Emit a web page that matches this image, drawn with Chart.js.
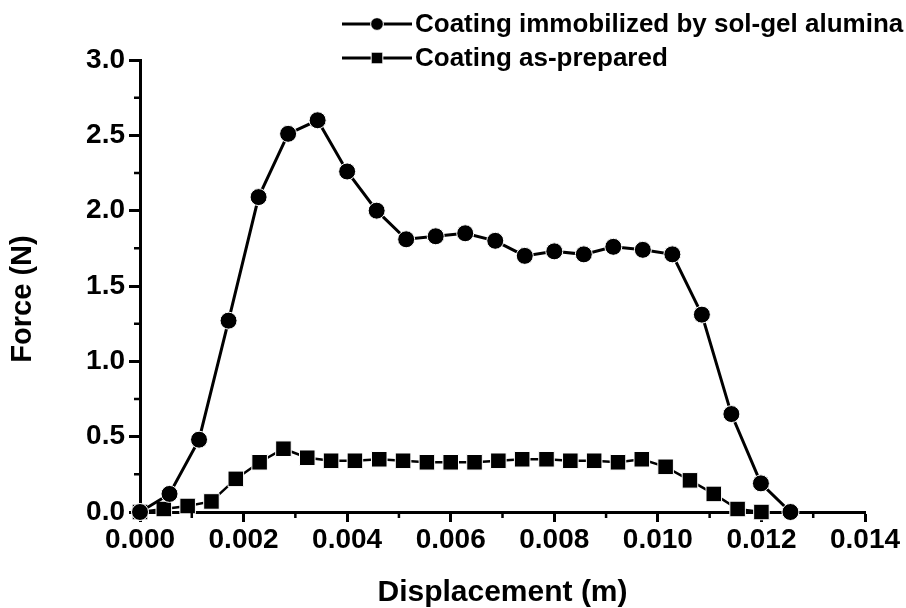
<!DOCTYPE html>
<html>
<head>
<meta charset="utf-8">
<script src="https://cdn.jsdelivr.net/npm/chart.js@4/dist/chart.umd.min.js"></script>
<style>
  html, body { margin: 0; padding: 0; background: #fff; }
  #c { display: block; }
</style>
</head>
<body>
<canvas id="c" width="906" height="608"></canvas>
<script>
// Force–displacement curves of the two coatings
const seriesNames = ['Coating immobilized by sol-gel alumina', 'Coating as-prepared'];

const aluminaX = [0, 0.00057, 0.00114, 0.00171, 0.00229, 0.00286, 0.00343, 0.00400, 0.00457, 0.00514,
                  0.00571, 0.00628, 0.00686, 0.00743, 0.00800, 0.00857, 0.00914, 0.00971, 0.01028,
                  0.01085, 0.01142, 0.01199, 0.01256];
const aluminaF = [0, 0.12, 0.48, 1.27, 2.09, 2.51, 2.60, 2.26, 2.00, 1.81,
                  1.83, 1.85, 1.80, 1.70, 1.73, 1.71, 1.76, 1.74, 1.71,
                  1.31, 0.65, 0.19, 0];

const preparedX = [0, 0.00046, 0.00092, 0.00138, 0.00185, 0.00231, 0.00277, 0.00323, 0.00369, 0.00415,
                   0.00462, 0.00508, 0.00554, 0.00600, 0.00646, 0.00692, 0.00738, 0.00785, 0.00831,
                   0.00877, 0.00923, 0.00969, 0.01015, 0.01062, 0.01108, 0.01154, 0.01200];
const preparedF = [0, 0.02, 0.04, 0.07, 0.22, 0.33, 0.42, 0.36, 0.34, 0.34,
                   0.35, 0.34, 0.33, 0.33, 0.33, 0.34, 0.35, 0.35, 0.34,
                   0.34, 0.33, 0.35, 0.30, 0.21, 0.12, 0.02, 0];

const xTicks = [0, 0.002, 0.004, 0.006, 0.008, 0.010, 0.012, 0.014];
const yTicks = [0, 0.5, 1.0, 1.5, 2.0, 2.5, 3.0];
const xTitle = 'Displacement (m)';
const yTitle = 'Force (N)';

const FONT = '"Liberation Sans", Arial, sans-serif';

const pairs = (xs, ys) => xs.map((x, i) => ({ x: x, y: ys[i] }));

// Minor ticks halfway between the major ones, outward from each axis
const minorTicks = {
  id: 'minorTicks',
  afterDraw(chart) {
    const ctx = chart.ctx;
    const xs = chart.scales.x, ys = chart.scales.y;
    ctx.save();
    ctx.strokeStyle = '#000';
    ctx.lineWidth = 2.5;
    ctx.beginPath();
    for (let i = 0; i < xTicks.length - 1; i++) {
      const px = xs.getPixelForValue((xTicks[i] + xTicks[i + 1]) / 2);
      ctx.moveTo(px, ys.bottom);
      ctx.lineTo(px, ys.bottom + 6);
    }
    for (let i = 0; i < yTicks.length - 1; i++) {
      const py = ys.getPixelForValue((yTicks[i] + yTicks[i + 1]) / 2);
      ctx.moveTo(xs.left, py);
      ctx.lineTo(xs.left - 6, py);
    }
    ctx.stroke();
    ctx.restore();
  }
};

// Vertical axis title, set a little below the middle of the plot
const forceTitle = {
  id: 'forceTitle',
  afterDraw(chart) {
    const ctx = chart.ctx;
    const a = chart.chartArea;
    ctx.save();
    ctx.translate(23, (a.top + a.bottom) / 2 + 13);
    ctx.rotate(-Math.PI / 2);
    ctx.fillStyle = '#000';
    ctx.font = 'bold 29px ' + FONT;
    ctx.textAlign = 'center';
    ctx.textBaseline = 'middle';
    ctx.fillText(yTitle, 0, 0);
    ctx.restore();
  }
};

// Legend in the form line–marker–line followed by the series name
const lineLegend = {
  id: 'lineLegend',
  afterDraw(chart) {
    const ctx = chart.ctx;
    const x0 = 342, x1 = 412, rowY = [24, 58];
    ctx.save();
    chart.data.datasets.forEach((ds, i) => {
      const y = rowY[i];
      ctx.strokeStyle = '#000';
      ctx.lineWidth = 3;
      ctx.beginPath();
      ctx.moveTo(x0, y);
      ctx.lineTo(x1, y);
      ctx.stroke();
      ctx.fillStyle = '#000';
      ctx.strokeStyle = '#fff';
      ctx.lineWidth = 1;
      Chart.helpers.drawPoint(ctx, {
        pointStyle: ds.pointStyle, radius: ds.pointRadius * 0.75, borderWidth: 1, rotation: 0
      }, (x0 + x1) / 2, y);
      ctx.fillStyle = '#000';
      ctx.font = 'bold 26px ' + FONT;
      ctx.textBaseline = 'middle';
      ctx.textAlign = 'left';
      ctx.fillText(ds.label, x1 + 3, y + 1);
    });
    ctx.restore();
  }
};

new Chart(document.getElementById('c'), {
  type: 'line',
  data: {
    datasets: [
      {
        label: seriesNames[0],
        data: pairs(aluminaX, aluminaF),
        borderColor: '#000',
        borderWidth: 3,
        pointStyle: 'circle',
        pointRadius: 8.5,
        pointBackgroundColor: '#000',
        pointBorderColor: '#fff',
        pointBorderWidth: 1,
        tension: 0,
        clip: false
      },
      {
        label: seriesNames[1],
        data: pairs(preparedX, preparedF),
        borderColor: '#000',
        borderWidth: 2.5,
        pointStyle: 'rect',
        pointRadius: 11,
        pointBackgroundColor: '#000',
        pointBorderColor: '#fff',
        pointBorderWidth: 1,
        tension: 0,
        clip: false
      }
    ]
  },
  options: {
    responsive: false,
    animation: false,
    devicePixelRatio: 1,
    layout: { padding: { left: 0, top: 60, right: 41, bottom: 0 } },
    plugins: { legend: { display: false }, tooltip: { enabled: false } },
    scales: {
      x: {
        type: 'linear',
        min: 0, max: 0.014,
        afterBuildTicks: s => { s.ticks = xTicks.map(v => ({ value: v })); },
        afterFit: s => { s.height = 96; },
        ticks: {
          callback: v => v.toFixed(3),
          color: '#000',
          font: { family: FONT, size: 28, weight: 'bold' },
          padding: 1,
          maxRotation: 0,
          autoSkip: false
        },
        grid: { drawOnChartArea: false, tickLength: 10, tickWidth: 3, tickColor: '#000' },
        border: { color: '#000', width: 3 },
        title: {
          display: true,
          text: xTitle,
          color: '#000',
          font: { family: FONT, size: 30, weight: 'bold', lineHeight: 1 },
          padding: { top: 0, bottom: 0 }
        }
      },
      y: {
        type: 'linear',
        min: 0, max: 3.0,
        afterBuildTicks: s => { s.ticks = yTicks.map(v => ({ value: v })); },
        afterFit: s => { s.width = 140; },
        ticks: {
          callback: v => v.toFixed(1),
          color: '#000',
          font: { family: FONT, size: 28, weight: 'bold' },
          padding: 4,
          autoSkip: false
        },
        grid: { drawOnChartArea: false, tickLength: 11, tickWidth: 3, tickColor: '#000' },
        border: { color: '#000', width: 3 }
      }
    }
  },
  plugins: [minorTicks, forceTitle, lineLegend]
});
</script>
</body>
</html>
